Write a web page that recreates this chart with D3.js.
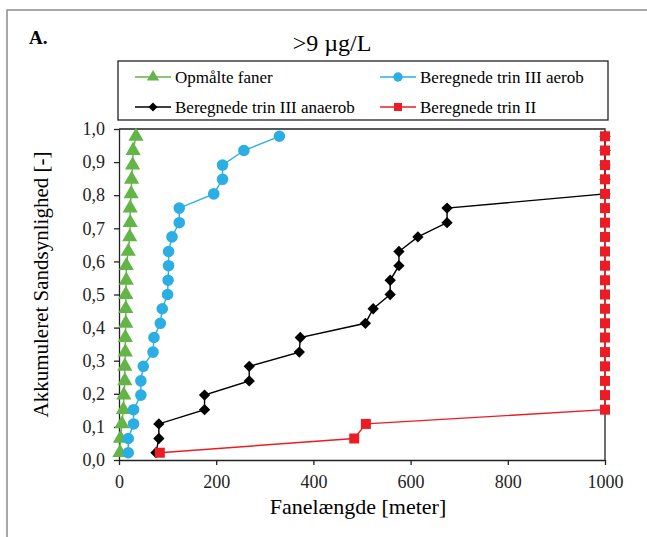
<!DOCTYPE html>
<meta charset="utf-8">
<style>
body { margin: 0; background: #fff; }
svg { display: block; font-family: "Liberation Serif", "DejaVu Serif", serif; }
.axis path, .axis line { stroke: #222; stroke-width: 1.3px; }
</style>
<body>
<script src="https://d3js.org/d3.v7.min.js"></script>
<script>
var width = 647,
    height = 537;

// cumulative probability of each of the 23 ranked plumes
var prob = [0.022, 0.065, 0.109, 0.152, 0.196, 0.239, 0.283, 0.326, 0.370, 0.413, 0.457, 0.500,
            0.543, 0.587, 0.630, 0.674, 0.717, 0.761, 0.804, 0.848, 0.891, 0.935, 0.978];

// plume lengths [m]
var opmaalte = [2, 3, 6, 9, 10, 12, 12, 13, 13, 14, 14, 14, 15, 15, 19, 22, 23, 23, 25, 26, 28, 29, 35];
var aerob = [19, 19, 30, 30, 45, 45, 50, 70, 72, 85, 89, 100, 101, 102, 102, 109, 124, 124, 195, 213, 213, 257, 330];
var anaerob = [76, 82, 82, 176, 176, 268, 268, 371, 373, 507, 523, 558, 558, 576, 576, 615, 675, 675, 1000, 1000, 1000, 1000, 1000];
var trinII = [84, 484, 508, 1000, 1000, 1000, 1000, 1000, 1000, 1000, 1000, 1000, 1000, 1000, 1000, 1000, 1000, 1000, 1000, 1000, 1000, 1000, 1000];

var xTicks = [0, 200, 400, 600, 800, 1000];
var yTicks = [0, 0.1, 0.2, 0.3, 0.4, 0.5, 0.6, 0.7, 0.8, 0.9, 1.0];

var serif = "'Liberation Serif', 'DejaVu Serif', serif";

// square turned 45 degrees, like the spreadsheet diamond marker
var diamond = {
  draw: function(context, size) {
    var r = Math.sqrt(size / 2);
    context.moveTo(0, -r);
    context.lineTo(r, 0);
    context.lineTo(0, r);
    context.lineTo(-r, 0);
    context.closePath();
  }
};

var series = [
  {name: "Opmålte faner", values: opmaalte, color: "#62b546", symbol: d3.symbolTriangle, size: 100},
  {name: "Beregnede trin III aerob", values: aerob, color: "#2aaee4", symbol: d3.symbolCircle, size: 105},
  {name: "Beregnede trin III anaerob", values: anaerob, color: "#000000", symbol: diamond, size: 64},
  {name: "Beregnede trin II", values: trinII, color: "#ec1c24", symbol: d3.symbolSquare, size: 100}
];

var plot = {left: 119, right: 605, top: 129, bottom: 460};

var x = d3.scaleLinear().domain([0, 1000]).range([plot.left, plot.right]);
var y = d3.scaleLinear().domain([0, 1]).range([plot.bottom, plot.top]);

var svg = d3.select("body").append("svg")
  .attr("width", width)
  .attr("height", height);

// outer figure frame
svg.append("rect")
  .attr("x", 7).attr("y", 10)
  .attr("width", 700).attr("height", 600)
  .attr("fill", "none")
  .attr("stroke", "#8a8a8a")
  .attr("stroke-width", 1.5);

svg.append("text")
  .attr("x", 29).attr("y", 44)
  .attr("font-family", serif)
  .attr("font-size", 19).attr("font-weight", "bold")
  .text("A.");

svg.append("text")
  .attr("x", 332).attr("y", 51)
  .attr("text-anchor", "middle")
  .attr("font-family", serif)
  .attr("font-size", 24)
  .text(">9 µg/L");

// plot frame (top and right)
svg.append("path")
  .attr("d", "M" + x(0) + "," + y(1) + "H" + x(1000) + "V" + y(0))
  .attr("fill", "none")
  .attr("stroke", "#222")
  .attr("stroke-width", 1.3);

var fmt = function(d) { return d3.format(".1f")(d).replace(".", ","); };

var xAxis = svg.append("g")
  .attr("class", "axis")
  .attr("transform", "translate(0," + plot.bottom + ")")
  .call(d3.axisBottom(x).tickValues(xTicks).tickFormat(d3.format("d")).tickSize(5).tickPadding(10).tickSizeOuter(0));

var yAxis = svg.append("g")
  .attr("class", "axis")
  .attr("transform", "translate(" + plot.left + ",0)")
  .call(d3.axisLeft(y).tickValues(yTicks).tickFormat(fmt).tickSize(5).tickPadding(9).tickSizeOuter(0));

[xAxis, yAxis].forEach(function(a) {
  a.attr("font-family", serif).attr("font-size", 18);
  a.selectAll("text")
    .attr("font-family", serif)
    .attr("font-size", 18)
    .attr("fill", "#222");
});

svg.append("text")
  .attr("x", 358).attr("y", 514)
  .attr("text-anchor", "middle")
  .attr("font-family", serif)
  .attr("font-size", 22)
  .text("Fanelængde [meter]");

svg.append("text")
  .attr("transform", "translate(48," + ((plot.top + plot.bottom) / 2 - 10) + ") rotate(-90)")
  .attr("text-anchor", "middle")
  .attr("font-family", serif)
  .attr("font-size", 21)
  .text("Akkumuleret Sandsynlighed [-]");

var line = d3.line()
  .x(function(d) { return x(d[0]); })
  .y(function(d) { return y(d[1]); });

series.forEach(function(s) {
  var pts = s.values.map(function(v, i) { return [v, prob[i]]; });
  var g = svg.append("g");
  g.append("path")
    .attr("d", line(pts))
    .attr("fill", "none")
    .attr("stroke", s.color)
    .attr("stroke-width", 1.4);
  g.selectAll("path.pt")
    .data(pts)
    .enter().append("path")
      .attr("class", "pt")
      .attr("transform", function(d) { return "translate(" + x(d[0]) + "," + y(d[1]) + ")"; })
      .attr("d", d3.symbol().type(s.symbol).size(s.size))
      .attr("fill", s.color);
});

// legend
var legend = svg.append("g");
legend.append("rect")
  .attr("x", 118).attr("y", 61)
  .attr("width", 490).attr("height", 59)
  .attr("fill", "#fff")
  .attr("stroke", "#222")
  .attr("stroke-width", 1.3);

var legPos = [[135, 77], [380, 77], [135, 107], [380, 107]];
series.forEach(function(s, i) {
  var p = legPos[i];
  var item = legend.append("g").attr("transform", "translate(" + p[0] + "," + p[1] + ")");
  item.append("line")
    .attr("x1", 0).attr("x2", 36)
    .attr("stroke", s.color).attr("stroke-width", 1.4);
  item.append("path")
    .attr("transform", "translate(18,0)")
    .attr("d", d3.symbol().type(s.symbol).size(s.size * 0.65))
    .attr("fill", s.color);
  item.append("text")
    .attr("x", 40).attr("dy", "0.33em")
    .attr("font-family", serif)
    .attr("font-size", 17)
    .text(s.name);
});
</script>
